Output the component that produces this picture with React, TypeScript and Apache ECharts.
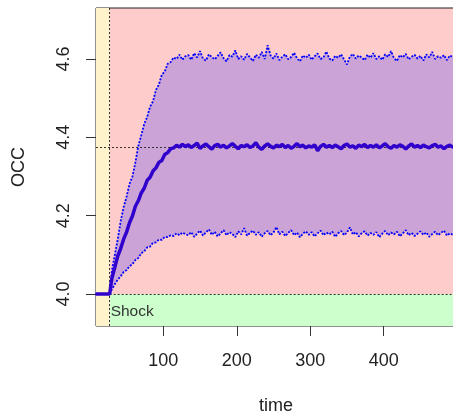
import React, { useEffect, useRef } from 'react';
import * as echarts from 'echarts';

// time points: before shock, during the rise, and on the plateau
const preTimes = [8, 27];
const riseTimes = [30, 34, 38, 42, 46, 50, 54, 58, 62, 66, 70, 74, 78, 82, 86, 90, 94, 98, 102, 106, 110, 114, 118, 122, 126, 130];
const plateauTimes = [
  134, 138, 142, 146, 150, 154, 158, 162, 166, 170, 174, 178, 182, 186, 190, 194, 198, 202, 206, 210,
  214, 218, 222, 226, 230, 234, 238, 242, 246, 250, 254, 258, 262, 266, 270, 274, 278, 282, 286, 290,
  294, 298, 302, 306, 310, 314, 318, 322, 326, 330, 334, 338, 342, 346, 350, 354, 358, 362, 366, 370,
  374, 378, 382, 386, 390, 394, 398, 402, 406, 410, 414, 418, 422, 426, 430, 434, 438, 442, 446, 450,
  454, 458, 462, 466, 470, 474, 478, 482, 486, 490, 494, 498,
];

const preMean = [4.0, 4.0];
const riseMean = [4.040, 4.068, 4.097, 4.116, 4.140, 4.158, 4.182, 4.199, 4.224, 4.238, 4.258, 4.270, 4.290, 4.298, 4.314, 4.322, 4.336, 4.341, 4.356, 4.361, 4.371, 4.373, 4.380, 4.375, 4.382, 4.376];
const plateauMean = [
  4.381, 4.374, 4.379, 4.385, 4.372, 4.378, 4.383, 4.376, 4.370, 4.379,
  4.382, 4.375, 4.380, 4.373, 4.378, 4.384, 4.377, 4.371, 4.379, 4.376,
  4.381, 4.374, 4.378, 4.386, 4.375, 4.369, 4.378, 4.383, 4.377, 4.373,
  4.380, 4.376, 4.382, 4.374, 4.379, 4.372, 4.377, 4.384, 4.376, 4.380,
  4.373, 4.378, 4.375, 4.381, 4.366, 4.377, 4.382, 4.375, 4.379, 4.374,
  4.380, 4.376, 4.371, 4.379, 4.383, 4.375, 4.378, 4.372, 4.380, 4.376,
  4.382, 4.374, 4.379, 4.375, 4.381, 4.373, 4.378, 4.384, 4.376, 4.372,
  4.379, 4.375, 4.381, 4.377, 4.370, 4.378, 4.383, 4.375, 4.379, 4.374,
  4.380, 4.376, 4.373, 4.379, 4.382, 4.375, 4.378, 4.371, 4.377, 4.380,
  4.375, 4.378,
];

const preUpper = [4.0, 4.0];
const riseUpper = [4.060, 4.100, 4.140, 4.186, 4.222, 4.248, 4.281, 4.300, 4.336, 4.378, 4.405, 4.434, 4.452, 4.478, 4.492, 4.521, 4.535, 4.560, 4.568, 4.588, 4.592, 4.604, 4.600, 4.611, 4.598, 4.607];
const plateauUpper = [
  4.610, 4.598, 4.615, 4.604, 4.620, 4.601, 4.596, 4.612, 4.605, 4.599,
  4.608, 4.617, 4.602, 4.594, 4.610, 4.606, 4.622, 4.600, 4.607, 4.598,
  4.613, 4.604, 4.595, 4.611, 4.603, 4.618, 4.600, 4.635, 4.609, 4.601,
  4.614, 4.597, 4.606, 4.612, 4.599, 4.605, 4.616, 4.602, 4.594, 4.609,
  4.603, 4.611, 4.598, 4.607, 4.614, 4.600, 4.604, 4.619, 4.601, 4.596,
  4.608, 4.603, 4.612, 4.599, 4.586, 4.606, 4.613, 4.601, 4.609, 4.604,
  4.597, 4.611, 4.603, 4.615, 4.600, 4.607, 4.598, 4.612, 4.605, 4.620,
  4.602, 4.595, 4.610, 4.604, 4.613, 4.599, 4.606, 4.611, 4.601, 4.608,
  4.596, 4.612, 4.604, 4.618, 4.600, 4.607, 4.603, 4.610, 4.597, 4.609,
  4.605, 4.601,
];

const preLower = [4.0, 4.0];
const riseLower = [4.012, 4.025, 4.037, 4.045, 4.056, 4.061, 4.071, 4.076, 4.087, 4.092, 4.104, 4.109, 4.119, 4.121, 4.131, 4.132, 4.139, 4.138, 4.146, 4.145, 4.150, 4.148, 4.155, 4.150, 4.157, 4.153];
const plateauLower = [
  4.150, 4.158, 4.146, 4.154, 4.162, 4.149, 4.157, 4.165, 4.151, 4.159,
  4.147, 4.155, 4.163, 4.150, 4.158, 4.153, 4.145, 4.160, 4.152, 4.168,
  4.149, 4.156, 4.162, 4.151, 4.158, 4.146, 4.155, 4.161, 4.150, 4.157,
  4.171, 4.152, 4.159, 4.148, 4.156, 4.163, 4.150, 4.157, 4.145, 4.154,
  4.160, 4.151, 4.158, 4.147, 4.155, 4.162, 4.150, 4.157, 4.152, 4.159,
  4.146, 4.155, 4.161, 4.150, 4.157, 4.170, 4.152, 4.158, 4.147, 4.155,
  4.160, 4.149, 4.156, 4.151, 4.158, 4.145, 4.154, 4.161, 4.150, 4.157,
  4.152, 4.159, 4.147, 4.155, 4.163, 4.150, 4.156, 4.148, 4.154, 4.160,
  4.151, 4.157, 4.146, 4.153, 4.159, 4.150, 4.156, 4.162, 4.149, 4.155,
  4.151, 4.154,
];

const times = [...preTimes, ...riseTimes, ...plateauTimes];
const meanOCC = [...preMean, ...riseMean, ...plateauMean];
const upperOCC = [...preUpper, ...riseUpper, ...plateauUpper];
const lowerOCC = [...preLower, ...riseLower, ...plateauLower];

const shockTime = 27;
const steadyMean = 4.375;
const baseline = 4.0;
const shockLabelY = 3.957;
const xTicks = [100, 200, 300, 400];
const yTicks = [4.0, 4.2, 4.4, 4.6];
const xMin = 8.4;
const xMax = 498.4;
const yMin = 3.9183;
const yMax = 4.7302;

const FONT = 'Liberation Sans, Arial, sans-serif';
const PINK = '#FFCCCC';
const GREEN = '#CCFFCC';
const YELLOW = '#FFF3CC';
const BAND = '#CBA3D6';

export default function App() {
  const ref = useRef<HTMLDivElement>(null);
  useEffect(() => {
    const chart = echarts.init(ref.current!, null, { renderer: 'svg' });
    const pair = (ys: number[]) => times.map((t, i) => [t, ys[i]]);
    chart.setOption({
      animation: false,
      grid: {
        left: 96, top: 8, right: -3, bottom: 89,
        containLabel: false, outerBoundsMode: 'none',
        show: true, borderColor: '#222', borderWidth: 1, backgroundColor: PINK,
      },
      xAxis: {
        type: 'value', min: xMin, max: xMax,
        axisLine: { show: false }, splitLine: { show: false },
        axisTick: { show: true, customValues: xTicks, length: 10, lineStyle: { color: '#333' } },
        axisLabel: { customValues: xTicks, margin: 25, fontSize: 18, color: '#222', fontFamily: FONT },
        name: 'time', nameLocation: 'middle', nameGap: 70,
        nameTextStyle: { fontSize: 18, lineHeight: 18, color: '#222', fontFamily: FONT },
      },
      yAxis: {
        type: 'value', min: yMin, max: yMax,
        axisLine: { show: false }, splitLine: { show: false },
        axisTick: { show: true, customValues: yTicks, length: 10, lineStyle: { color: '#333' } },
        axisLabel: {
          customValues: yTicks, rotate: 90, margin: 24, fontSize: 18, color: '#222', fontFamily: FONT,
          formatter: (v: number) => v.toFixed(1),
        },
        name: 'OCC', nameLocation: 'middle', nameGap: 69,
        nameTextStyle: { fontSize: 18, color: '#222', fontFamily: FONT },
      },
      series: [
        // band fill: purple under the upper bound, pink under the lower bound
        {
          type: 'line', z: 1, symbol: 'none', silent: true, data: pair(upperOCC),
          lineStyle: { width: 0, opacity: 0 },
          areaStyle: { color: BAND, opacity: 1, origin: 'start' },
        },
        {
          type: 'line', z: 1, symbol: 'none', silent: true, data: pair(lowerOCC),
          lineStyle: { width: 0, opacity: 0 },
          areaStyle: { color: PINK, opacity: 1, origin: 'start' },
        },
        // pre-shock (yellow) and below-baseline (green) regions
        {
          type: 'line', z: 2, symbol: 'none', silent: true, data: [],
          markArea: {
            silent: true, z: 2,
            data: [
              [{ coord: [xMin, yMin], itemStyle: { color: YELLOW, opacity: 1 } }, { coord: [shockTime, yMax] }],
              [{ coord: [shockTime, yMin], itemStyle: { color: GREEN, opacity: 1 } }, { coord: [xMax, baseline] }],
            ],
          },
        },
        {
          type: 'line', z: 3, symbol: 'none', silent: true, data: [],
          markLine: {
            silent: true, z: 3, symbol: ['none', 'none'], label: { show: false },
            lineStyle: { type: [2, 2], color: '#333', width: 1 },
            data: [
              [{ coord: [xMin, steadyMean] }, { coord: [xMax, steadyMean] }],
              [{ coord: [shockTime, baseline] }, { coord: [xMax, baseline] }],
              [{ coord: [shockTime, yMin] }, { coord: [shockTime, yMax] }],
            ],
          },
          markPoint: {
            silent: true, z: 3, symbol: 'circle', symbolSize: 0,
            label: { show: true, position: 'right', distance: 1, formatter: 'Shock', fontSize: 15.5, color: '#333', fontFamily: FONT },
            data: [{ coord: [shockTime, shockLabelY] }],
          },
        },
        {
          type: 'line', z: 4, symbol: 'none', silent: true, data: pair(lowerOCC),
          lineStyle: { color: '#0000FF', width: 1.8, type: [2, 1.5] },
        },
        {
          type: 'line', z: 4, symbol: 'none', silent: true, data: pair(upperOCC),
          lineStyle: { color: '#0000FF', width: 1.8, type: [2, 1.5] },
        },
        {
          type: 'line', z: 5, symbol: 'none', silent: true, data: pair(meanOCC),
          lineStyle: { color: '#3000CC', width: 3.5 },
        },
      ],
    });
    return () => chart.dispose();
  }, []);
  return <div ref={ref} style={{ position: 'fixed', left: 0, top: 0, width: 453, height: 415 }} />;
}
